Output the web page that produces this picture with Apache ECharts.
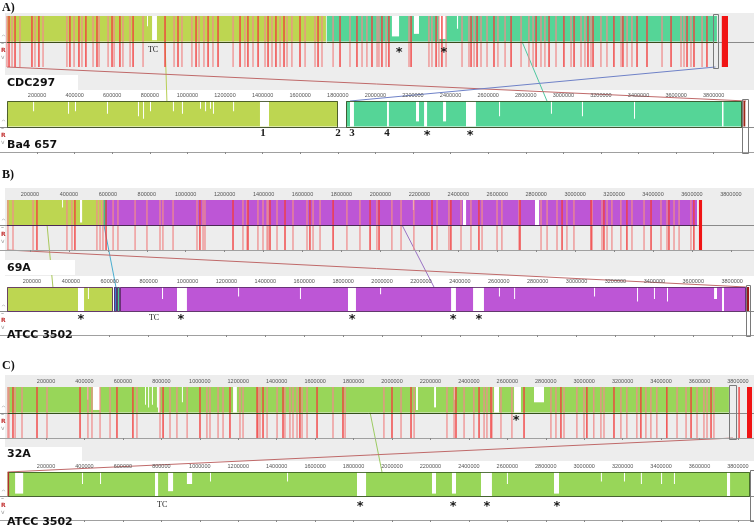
<!DOCTYPE html>
<html><head><meta charset="utf-8">
<script src="https://cdn.jsdelivr.net/npm/echarts@6.0.0/dist/echarts.min.js"></script>
<style>html,body{margin:0;padding:0;background:#fff;}#chart{width:754px;height:531px;}</style>
</head><body><div id="chart"></div>
<script>
// ================= DATA (positions in kb) =================
const rulerTicks = [200000,400000,600000,800000,1000000,1200000,1400000,1600000,1800000,2000000,2200000,2400000,2600000,2800000,3000000,3200000,3400000,3600000,3800000];
const panelLetters = ['A)','B)','C)'];
const genomeNames = ['CDC297','Ba4 657','69A','ATCC 3502','32A','ATCC 3502'];

// ---- Panel A: CDC297 (top) / Ba4 657 (bottom)
const aTopLCB = [[40,1737],[1742,3817]];
const aTopGaps = [[785,790,0.4],[812,838,0.95],[2088,2126,0.8],[2205,2232,0.7],[2338,2376,0.9],[2434,2440,0.5]];
const aTopRedStrong = [51,83,173,210,375,423,460,519,599,641,711,881,950,1046,1110,1163,1280,1322,1376,1429,1471,1514,1599,1695,1812,1902,1982,2035,2072,2190,2323,2354,2509,2541,2631,2722,2855,2924,3003,3057,3131,3158,3269,3317,3392,3445,3573,3658,3695,3764];
const aTopRedLight = [40,67,109,189,232,359,397,439,498,530,578,610,657,695,764,929,971,1024,1062,1088,1136,1243,1306,1349,1413,1450,1493,1530,1556,1626,1679,1716,1775,1865,1929,1955,2009,2019,2057,2179,2285,2301,2338,2376,2461,2498,2525,2562,2594,2652,2690,2775,2817,2839,2881,2902,2961,3041,3094,3115,3147,3200,3232,3307,3339,3365,3525,3626,3642,3679,3738];
const aTopBoxes = [[3796,3822]];
const aTopBars = [[3843,3876]];
const aTopMarks = [[817,'TC'],[2126,'*'],[2365,'*']];
const aBotLCB = [[40,1801],[1844,3950]];
const aBotGaps = [[30,42,0.5],[179,183,0.4],[365,369,0.5],[402,406,0.4],[572,576,0.5],[737,741,0.6],[764,768,0.7],[801,805,0.4],[923,927,0.4],[971,975,0.5],[1067,1070,0.3],[1094,1098,0.4],[1120,1124,0.3],[1136,1140,0.5],[1243,1247,0.4],[1386,1434,1],[1865,1886,1],[2062,2072,1],[2216,2232,0.8],[2259,2275,1],[2360,2376,0.8],[2482,2535,1],[2658,2663,0.6],[2934,2938,0.5],[3099,3103,0.6],[3376,3380,0.7],[3844,3852,1]];
const aBotBoxes = [[3950,3982]];
const aBotBars = [[3958,3968]];
const aBotMarks = [[1402,'1'],[1801,'2'],[1876,'3'],[2062,'4'],[2275,'*'],[2504,'*']];
const aLinks = [[881,891,0],[2780,2913,0],[40,3972,1],[3809,1865,1]];

// ---- Panel B: 69A (top) / ATCC 3502 (bottom)
const bTopLCB = [[82,575],[575,586],[586,596],[596,3626]];
const bTopGaps = [[365,368,0.3],[457,468,0.9],[2167,2172,0.4],[2424,2440,1],[2794,2815,1]];
const bTopRedStrong = [236,431,591,1073,1243,1320,1433,1510,1638,1757,1947,1993,2265,2362,2506,2717,2933,3082,3148,3266,3390,3482,3610];
const bTopRedLight = [87,113,216,390,416,544,560,575,627,652,740,801,868,883,935,1058,1089,1099,1294,1315,1371,1397,1418,1423,1469,1551,1623,1654,1690,1828,1895,1982,2059,2106,2172,2291,2352,2414,2465,2522,2599,2624,2712,2825,2856,2907,2958,2994,3087,3138,3164,3189,3235,3292,3354,3441,3472,3508,3534,3595];
const bTopBoxes = [];
const bTopBars = [[3636,3652]];
const bTopMarks = [];
const bBotLCB = [[72,617],[622,637],[637,650],[653,3871]];
const bBotGaps = [[437,468,1],[488,491,0.5],[869,872,0.5],[946,997,1],[1260,1263,0.4],[1578,1581,0.5],[1825,1866,1],[1990,1993,0.3],[2355,2380,1],[2468,2524,1],[2601,2606,0.4],[2679,2683,0.5],[3090,3094,0.4],[3311,3315,0.6],[3398,3402,0.5],[3465,3469,0.6],[3707,3722,0.5],[3748,3758,1]];
const bBotBoxes = [[3871,3892]];
const bBotBars = [[3876,3887]];
const bBotMarks = [[828,'TC'],[452,'*'],[966,'*'],[1846,'*'],[2365,'*'],[2498,'*']];
const bLinks = [[288,308,0],[580,632,0],[2111,2267,0],[82,3871,1]];

// ---- Panel C: 32A (top) / ATCC 3502 (bottom)
const cTopLCB = [[0,3753]];
const cTopGaps = [[414,418,0.5],[444,481,0.9],[715,719,0.7],[731,735,0.8],[751,755,0.7],[777,781,0.8],[783,793,1],[907,911,0.6],[1173,1193,1],[2125,2135,0.9],[2219,2229,0.8],[2323,2327,0.5],[2531,2557,1],[2635,2671,1],[2739,2791,0.6]];
const cTopRedStrong = [28,153,377,569,652,809,1001,1157,1298,1329,1433,1521,1610,1745,2000,2099,2333,2453,2515,2687,2879,3014,3155,3295,3430,3556,3660,3806];
const cTopRedLight = [2,7,39,75,205,418,439,481,533,673,793,845,881,934,1037,1053,1095,1121,1209,1225,1303,1313,1350,1402,1443,1469,1485,1506,1532,1558,1693,1756,1958,2047,2115,2286,2323,2375,2426,2479,2494,2520,2567,2624,2827,2853,2895,2962,2999,3050,3087,3103,3191,3222,3274,3321,3347,3378,3483,3530,3587,3623,3639,3675];
const cTopBoxes = [[3753,3790]];
const cTopBars = [[3847,3873]];
const cTopMarks = [[2646,'*']];
const cBotLCB = [[0,3863]];
const cBotGaps = [[39,81,0.9],[387,391,0.5],[481,485,0.5],[767,783,1],[835,861,0.8],[933,960,0.5],[1053,1057,0.4],[1454,1458,0.4],[1818,1865,1],[2208,2229,0.9],[2312,2333,0.9],[2463,2520,1],[2598,2602,0.5],[2843,2869,0.9],[3087,3091,0.4],[3207,3211,0.4],[3295,3299,0.5],[3400,3404,0.5],[3467,3471,0.5],[3743,3759,1]];
const cBotBoxes = [[3863,3885]];
const cBotBars = [[0,8]];
const cBotMarks = [[804,'TC'],[1834,'*'],[2318,'*'],[2494,'*'],[2858,'*']];
const cLinks = [[1886,1948,0],[3774,0,1]];

// ================= STYLE / LAYOUT =================
const KB = 1000;
const YG = '#bdd651', TEAL = '#55d597', PURPLE = '#bd56d6', CGREEN = '#98d659';
const tracks = [
  {top:16, h:51, min:3000, max:4014280, ruler:false, lcb:aTopLCB, colors:[YG,TEAL], gaps:aTopGaps, strong:aTopRedStrong, light:aTopRedLight, boxes:aTopBoxes, bars:aTopBars, barColor:'#f01414', marks:aTopMarks, markY:0.33, outline:false, border:'#3c4a1c'},
  {top:101, h:51, min:3000, max:4014280, ruler:true, lcb:aBotLCB, colors:[YG,TEAL], gaps:aBotGaps, strong:[], light:[], boxes:aBotBoxes, bars:aBotBars, barColor:'#9a2a1a', marks:aBotMarks, markY:0.37, outline:true, border:'#3a4a22'},
  {top:200, h:50, min:46224, max:3918768, ruler:true, lcb:bTopLCB, colors:[YG,'#43c57f','#3a86b5',PURPLE], gaps:bTopGaps, strong:bTopRedStrong, light:bTopRedLight, boxes:bTopBoxes, bars:bTopBars, barColor:'#f01414', marks:bTopMarks, markY:0.35, outline:false, border:'#4a2a55'},
  {top:287, h:48, min:35987, max:3912301, ruler:true, lcb:bBotLCB, colors:[YG,'#3c7fcf','#47c98e',PURPLE], gaps:bBotGaps, strong:[], light:[], boxes:bBotBoxes, bars:bBotBars, barColor:'#9a1a1a', marks:bBotMarks, markY:0.36, outline:true, border:'#5a2a66'},
  {top:387, h:51, min:-39543, max:3883519, ruler:true, lcb:cTopLCB, colors:[CGREEN], gaps:cTopGaps, strong:cTopRedStrong, light:cTopRedLight, boxes:cTopBoxes, bars:cTopBars, barColor:'#f01414', marks:cTopMarks, markY:0.38, outline:false, border:'#34501c'},
  {top:472, h:48, min:-39543, max:3883519, ruler:true, lcb:cBotLCB, colors:[CGREEN], gaps:cBotGaps, strong:[], light:[], boxes:cBotBoxes, bars:cBotBars, barColor:'#b03030', marks:cBotMarks, markY:0.32, outline:true, border:'#3a5a22'}
];
const panels = [
  {letterY:8, bg:[13,90], top:0, bot:1, links:aLinks, linkColors:['#b8cf55','#4fc7a0','#c06a6a','#6f82c8'], topName:{box:[5,75,73,15], y:83}, botNameY:145},
  {letterY:175, bg:[188,276], top:2, bot:3, links:bLinks, linkColors:['#a9c85a','#4aaed0','#9a72c4','#c06a6a'], topName:{box:[5,260,70,15], y:268}, botNameY:335},
  {letterY:366, bg:[375,461], top:4, bot:5, links:cLinks, linkColors:['#9ccc62','#c06a6a'], topName:{box:[5,447,77,15], y:454}, botNameY:522}
];

// ================= BUILD =================
const chart = echarts.init(document.getElementById('chart'), null, {renderer:'canvas'});
function rectOf(api, x0, x1, y0, y1){
  const a = api.coord([x0, y0]), b = api.coord([x1, y1]);
  return {x:Math.min(a[0],b[0]), y:Math.min(a[1],b[1]), width:Math.max(1, Math.abs(b[0]-a[0])), height:Math.abs(b[1]-a[1])};
}
function custom(ti, data, render, z){
  return {type:'custom', xAxisIndex:ti, yAxisIndex:ti, data:data, renderItem:render, silent:true, animation:false, clip:false, z:z};
}
const grids = [], xAxes = [], yAxes = [], series = [];
tracks.forEach((t, ti) => {
  grids.push({left:0, right:0, top:t.top, height:t.h});
  xAxes.push({type:'value', gridIndex:ti, min:t.min, max:t.max, position:'top', offset:10, show:t.ruler, z:6,
    axisLine:{show:true, lineStyle:{color:'#a0a0a0', width:1}},
    axisTick:{show:true, inside:true, length:2, customValues:rulerTicks, lineStyle:{color:'#888'}},
    axisLabel:{inside:true, margin:1, fontSize:5.5, color:'#555', fontFamily:'Liberation Sans', customValues:rulerTicks, formatter:(v) => String(v)},
    splitLine:{show:false}});
  yAxes.push({type:'value', gridIndex:ti, min:0, max:1, show:false});
  // center / baseline across the whole width
  series.push(custom(ti, [[0]], (p, api) => {
    const y = Math.round(api.coord([0, 0.5])[1]) + 0.5;
    return {type:'line', shape:{x1:p.coordSys.x, y1:y, x2:p.coordSys.x + p.coordSys.width, y2:y}, style:{stroke:'#8a8a8a', lineWidth:1}};
  }, 1));
  // LCB blocks
  series.push(custom(ti, t.lcb.map((d,i) => [d[0]*KB, d[1]*KB, i]), (p, api) => {
    return {type:'rect', shape:rectOf(api, api.value(0), api.value(1), 0.5, 1), style:{fill:t.colors[api.value(2)]}};
  }, 2));
  // white similarity gaps
  series.push(custom(ti, t.gaps.map(d => [d[0]*KB, d[1]*KB, d[2]]), (p, api) => {
    return {type:'rect', shape:rectOf(api, api.value(0), api.value(1), 1 - 0.5*api.value(2), 1), style:{fill:'#ffffff'}};
  }, 3));
  // red lines (thin filled rects, slightly wider than 1px)
  [[t.light, '#f08c8c', 0.9, 1.4], [t.strong, '#f23c3c', 0.85, 1.6]].forEach(([arr, col, op, w]) => {
    series.push(custom(ti, arr.map(v => [v*KB]), (p, api) => {
      const a = api.coord([api.value(0), 1]), b = api.coord([api.value(0), 0]);
      return {type:'rect', shape:{x:a[0] - w/2, y:a[1], width:w, height:b[1]-a[1]}, style:{fill:col, opacity:op}};
    }, 4));
  });
  // block border
  series.push(custom(ti, t.lcb.map(d => [d[0]*KB, d[1]*KB]), (p, api) => {
    const r = rectOf(api, api.value(0), api.value(1), 0.5, 1);
    if (t.outline) {
      return {type:'rect', shape:{x:Math.round(r.x)+0.5, y:Math.round(r.y)+0.5, width:Math.round(r.width)-1, height:Math.round(r.height)}, style:{fill:null, stroke:t.border, lineWidth:1, opacity:0.85}};
    }
    const y = Math.round(r.y + r.height) + 0.5;
    return {type:'line', shape:{x1:r.x, y1:y, x2:r.x + r.width, y2:y}, style:{stroke:t.border, lineWidth:1}};
  }, 5));
  // red bars
  series.push(custom(ti, t.bars.map(d => [d[0]*KB, d[1]*KB]), (p, api) => {
    return {type:'rect', shape:rectOf(api, api.value(0), api.value(1), t.outline ? 0.5 : 0, 1), style:{fill:t.barColor}};
  }, 6));
  // small LCB boxes
  series.push(custom(ti, t.boxes.map(d => [d[0]*KB, d[1]*KB]), (p, api) => {
    const r = rectOf(api, api.value(0), api.value(1), 0, 1);
    return {type:'rect', shape:{x:Math.round(r.x)+0.5, y:Math.round(r.y)-1.5, width:Math.round(r.width), height:Math.round(r.height)+3}, style:{fill:null, stroke:'#7a7a7a', lineWidth:1}};
  }, 7));
  // annotations
  series.push(custom(ti, t.marks.map(d => [d[0]*KB, d[1]]), (p, api) => {
    const c = api.coord([api.value(0), t.markY]);
    const txt = t.marks[p.dataIndex][1];
    const isTC = txt === 'TC';
    const isStar = txt === '*';
    return {type:'text', x:c[0], y:c[1] + (isStar ? 2 : 0), style:{text:txt, fill:'#1a1a1a', align:'center', verticalAlign:'middle',
      font: isTC ? '8px "Liberation Serif"' : (isStar ? 'bold 13px "DejaVu Sans"' : 'bold 11px "Liberation Serif"')}};
  }, 8));
});

const graphics = [];
panels.forEach((pn, pi) => {
  graphics.push({type:'rect', shape:{x:5, y:pn.bg[0], width:749, height:pn.bg[1]-pn.bg[0]}, style:{fill:'#ededed'}, z:-5, silent:true});
  graphics.push({type:'text', x:2, y:pn.letterY, style:{text:panelLetters[pi], font:'bold 12px "Liberation Serif"', fill:'#111', verticalAlign:'middle'}, z:10});
  const b = pn.topName.box;
  graphics.push({type:'rect', shape:{x:b[0], y:b[1], width:b[2], height:b[3]}, style:{fill:'#ffffff'}, z:9});
  graphics.push({type:'text', x:7, y:pn.topName.y, style:{text:genomeNames[pi*2], font:'bold 11px "DejaVu Sans"', fill:'#111', verticalAlign:'middle'}, z:10});
  graphics.push({type:'text', x:7, y:pn.botNameY, style:{text:genomeNames[pi*2+1], font:'bold 11px "DejaVu Sans"', fill:'#111', verticalAlign:'middle'}, z:10});
});
// left control glyphs next to each track
tracks.forEach(t => {
  const cy = t.top + t.h/2;
  graphics.push({type:'text', x:1, y:cy-4, style:{text:'^', font:'6px "DejaVu Sans"', fill:'#9a9a9a', verticalAlign:'middle'}, z:10});
  graphics.push({type:'text', x:1, y:cy+2, style:{text:'–', font:'6px "DejaVu Sans"', fill:'#666', verticalAlign:'middle'}, z:10});
  graphics.push({type:'text', x:1, y:cy+9, style:{text:'R', font:'bold 6px "DejaVu Sans"', fill:'#c23030', verticalAlign:'middle'}, z:10});
  graphics.push({type:'text', x:1, y:cy+16, style:{text:'v', font:'6px "DejaVu Sans"', fill:'#9a9a9a', verticalAlign:'middle'}, z:10});
});

chart.setOption({animation:false, backgroundColor:'#ffffff', grid:grids, xAxis:xAxes, yAxis:yAxes, series:series, graphic:{elements:graphics}});

// connecting lines between homologous LCBs (via the axes' own scales)
panels.forEach(pn => {
  pn.links.forEach((l, li) => {
    const p1 = chart.convertToPixel({xAxisIndex:pn.top, yAxisIndex:pn.top}, [l[0]*KB, l[2] ? 0 : 0.5]);
    const p2 = chart.convertToPixel({xAxisIndex:pn.bot, yAxisIndex:pn.bot}, [l[1]*KB, 1]);
    graphics.push({type:'line', shape:{x1:p1[0], y1:p1[1], x2:p2[0], y2:p2[1]}, style:{stroke:pn.linkColors[li], lineWidth:1}, z:1, silent:true});
  });
});
chart.setOption({graphic:{elements:graphics}}, {replaceMerge:['graphic']});
</script>
</body></html>
